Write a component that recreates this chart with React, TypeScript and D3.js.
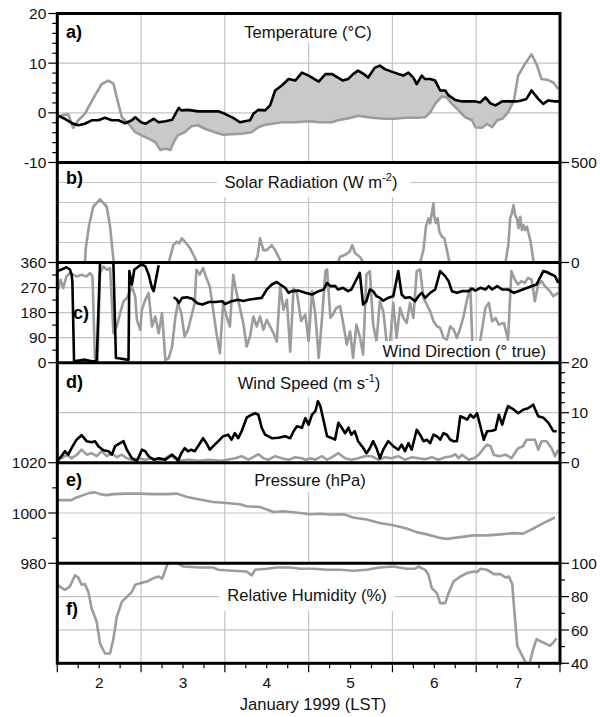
import React from "react";
import * as d3 from "d3";

type Pt = [number, number | null];

// ---------- data (day of January 1999, value) ----------
const DAY_LABELS = [2, 3, 4, 5, 6, 7];
const DAY_BOUNDS = [2.5, 3.5, 4.5, 5.5, 6.5];

const TEMP_AIR: Pt[] = [[1.50,-0.5],[1.59,-1.2],[1.69,-2.2],[1.75,-2.5],[1.83,-2.2],[1.91,-1.5],[1.99,-1.5],[2.07,-1.0],[2.15,-1.5],[2.23,-1.5],[2.31,-2.1],[2.39,-1.5],[2.43,-0.9],[2.50,-1.9],[2.55,-2.2],[2.65,-1.2],[2.71,-1.9],[2.79,-1.7],[2.87,-1.4],[2.90,-0.5],[2.95,1.0],[2.98,0.5],[3.06,0.6],[3.18,0.3],[3.30,0.3],[3.42,0.3],[3.50,-0.2],[3.60,-1.0],[3.68,-1.9],[3.80,-1.5],[3.84,-0.2],[3.90,0.6],[3.98,0.5],[4.04,1.5],[4.10,4.5],[4.18,5.5],[4.26,6.8],[4.34,6.5],[4.42,8.1],[4.50,7.5],[4.54,7.1],[4.62,6.3],[4.70,7.8],[4.78,7.8],[4.85,7.1],[4.91,6.5],[4.97,6.8],[5.03,7.8],[5.09,8.5],[5.15,7.9],[5.21,7.1],[5.29,9.1],[5.35,9.5],[5.41,8.8],[5.49,8.3],[5.57,7.8],[5.63,7.5],[5.69,8.1],[5.75,7.1],[5.79,5.8],[5.85,7.5],[5.89,6.8],[5.95,6.8],[6.01,6.5],[6.07,4.5],[6.13,4.5],[6.17,3.5],[6.25,2.6],[6.33,2.3],[6.41,2.3],[6.49,2.3],[6.55,2.1],[6.61,3.1],[6.67,1.9],[6.73,1.5],[6.81,2.3],[6.88,2.3],[6.98,2.3],[7.04,2.5],[7.10,2.8],[7.16,4.5],[7.24,2.8],[7.30,1.8],[7.36,2.5],[7.44,2.3],[7.50,2.3]];

const TEMP_SFC: Pt[] = [[1.50,-0.9],[1.55,-0.5],[1.63,-0.3],[1.69,-3.0],[1.75,-1.5],[1.83,-0.2],[1.87,1.1],[1.95,3.5],[2.03,5.8],[2.11,6.5],[2.17,5.9],[2.21,3.1],[2.27,-0.9],[2.35,-2.2],[2.43,-3.9],[2.50,-4.5],[2.59,-5.2],[2.67,-5.9],[2.73,-7.5],[2.79,-7.2],[2.85,-7.5],[2.89,-5.9],[2.94,-4.5],[3.02,-3.9],[3.10,-2.7],[3.18,-2.5],[3.26,-3.2],[3.38,-3.9],[3.48,-4.4],[3.58,-4.3],[3.70,-4.2],[3.82,-3.9],[3.90,-2.9],[3.96,-2.5],[4.06,-2.2],[4.18,-1.9],[4.34,-1.9],[4.50,-1.7],[4.62,-1.9],[4.78,-1.9],[4.85,-1.5],[5.01,-1.0],[5.09,-0.6],[5.25,-1.0],[5.41,-1.2],[5.53,-1.2],[5.65,-1.0],[5.81,-1.0],[5.89,-0.9],[5.95,0.1],[6.01,1.8],[6.09,3.3],[6.15,3.1],[6.21,1.8],[6.29,0.5],[6.37,-0.9],[6.45,-1.5],[6.49,-2.9],[6.57,-3.0],[6.63,-2.2],[6.69,-2.9],[6.75,-1.5],[6.81,-1.2],[6.88,0.1],[6.95,2.5],[7.00,7.5],[7.08,9.8],[7.16,11.8],[7.22,9.8],[7.28,6.8],[7.36,6.6],[7.42,6.1],[7.48,4.8]];

const SOLAR: Pt[] = [[1.50,0],[1.83,0],[1.84,72],[1.88,187],[1.93,280],[2.01,316],[2.09,280],[2.13,180],[2.17,12],[2.18,0],[2.83,0],[2.885,87],[2.925,104],[2.955,96],[2.985,121],[3.025,104],[3.085,71],[3.145,22],[3.165,0],[3.86,0],[3.89,30],[3.92,121],[3.96,62],[4.00,62],[4.06,87],[4.10,62],[4.15,20],[4.17,0],[4.85,0],[4.875,29],[4.93,37],[4.99,54],[5.02,87],[5.055,46],[5.11,29],[5.155,0],[5.83,0],[5.87,62],[5.90,179],[5.93,221],[5.95,196],[5.97,246],[5.99,296],[6.00,229],[6.02,196],[6.04,221],[6.06,154],[6.09,129],[6.12,121],[6.15,62],[6.18,0],[6.85,0],[6.885,96],[6.905,221],[6.925,246],[6.945,287],[6.965,237],[6.985,221],[7.005,171],[7.025,229],[7.045,162],[7.065,187],[7.085,162],[7.105,179],[7.125,146],[7.145,112],[7.165,62],[7.185,0],[7.50,0]];

const WDIR_A: Pt[] = [[1.50,329],[1.55,335],[1.61,343],[1.65,335],[1.67,317],[1.68,290],[1.70,5],[1.83,11],[1.91,5],[1.97,5],[2.01,355],[2.03,362],[2.10,362],[2.15,362],[2.17,353],[2.20,17],[2.25,15],[2.33,11],[2.35,11],[2.36,329],[2.39,281],[2.42,335],[2.45,341],[2.50,353],[2.55,347],[2.59,317],[2.63,269],[2.65,257],[2.71,350],[2.72,null],[2.88,null],[2.89,235],[2.93,226],[2.95,214],[2.99,233],[3.05,235],[3.11,230],[3.17,214],[3.23,209],[3.31,218],[3.39,218],[3.47,221],[3.50,211],[3.58,221],[3.66,226],[3.72,222],[3.78,226],[3.86,230],[3.94,233],[4.00,263],[4.06,281],[4.12,290],[4.16,281],[4.22,269],[4.26,251],[4.30,257],[4.38,259],[4.46,251],[4.54,245],[4.62,257],[4.68,263],[4.72,287],[4.76,275],[4.82,275],[4.85,263],[4.91,269],[4.97,257],[5.01,263],[5.07,299],[5.11,323],[5.15,209],[5.19,221],[5.23,263],[5.27,257],[5.31,239],[5.35,233],[5.39,223],[5.45,233],[5.51,239],[5.57,329],[5.61,245],[5.65,233],[5.71,235],[5.77,221],[5.81,239],[5.85,251],[5.89,233],[5.95,251],[6.01,263],[6.07,329],[6.13,311],[6.17,293],[6.21,257],[6.27,251],[6.33,257],[6.41,257],[6.45,266],[6.49,259],[6.55,269],[6.61,263],[6.65,275],[6.69,263],[6.75,275],[6.81,263],[6.88,263],[6.95,251],[7.00,257],[7.08,266],[7.16,275],[7.22,281],[7.26,305],[7.30,329],[7.34,326],[7.40,317],[7.44,311],[7.48,287]];

const WDIR_B: Pt[] = [[1.51,262],[1.54,298],[1.57,268],[1.61,310],[1.65,322],[1.69,316],[1.73,310],[1.79,316],[1.85,310],[1.89,322],[1.92,310],[1.95,4],[1.98,4],[2.01,322],[2.05,346],[2.09,334],[2.13,340],[2.17,106],[2.21,130],[2.25,178],[2.29,220],[2.33,232],[2.39,274],[2.43,238],[2.45,154],[2.49,118],[2.51,190],[2.55,226],[2.59,250],[2.63,130],[2.67,166],[2.71,106],[2.75,178],[2.79,10],[2.83,16],[2.87,58],[2.91,166],[2.94,214],[2.98,178],[3.02,94],[3.06,118],[3.10,166],[3.14,214],[3.16,334],[3.20,316],[3.24,340],[3.28,304],[3.32,274],[3.36,190],[3.40,106],[3.44,34],[3.48,214],[3.52,166],[3.56,130],[3.60,316],[3.64,250],[3.68,196],[3.72,142],[3.76,58],[3.80,94],[3.84,166],[3.88,130],[3.92,166],[3.96,118],[4.00,154],[4.04,130],[4.08,106],[4.12,76],[4.16,274],[4.20,190],[4.24,226],[4.28,40],[4.32,268],[4.36,250],[4.41,150],[4.46,173],[4.50,77],[4.54,257],[4.58,173],[4.62,17],[4.66,161],[4.70,329],[4.72,335],[4.76,161],[4.79,173],[4.83,197],[4.875,203],[4.915,137],[4.955,65],[4.995,113],[5.03,17],[5.07,137],[5.11,95],[5.15,29],[5.19,317],[5.23,329],[5.27,137],[5.31,77],[5.35,221],[5.39,185],[5.43,77],[5.47,65],[5.51,215],[5.55,89],[5.59,197],[5.63,161],[5.67,143],[5.71,215],[5.75,161],[5.79,329],[5.83,335],[5.87,233],[5.91,209],[5.95,185],[5.99,149],[6.03,131],[6.07,125],[6.11,89],[6.15,83],[6.19,131],[6.23,119],[6.27,89],[6.31,125],[6.35,167],[6.39,227],[6.43,269],[6.46,20],[6.53,20],[6.55,83],[6.61,197],[6.65,215],[6.69,149],[6.73,161],[6.77,137],[6.83,143],[6.88,83],[6.92,329],[6.96,299],[7.00,281],[7.04,293],[7.08,287],[7.12,305],[7.16,299],[7.20,221],[7.24,281],[7.28,293],[7.32,275],[7.38,257],[7.42,239],[7.48,251]];

const WSPD_A: Pt[] = [[1.50,0.3],[1.55,1.3],[1.59,2.3],[1.63,1.6],[1.67,2.9],[1.73,4.6],[1.79,5.5],[1.85,4.3],[1.91,4.1],[1.95,4.3],[1.99,3.3],[2.05,2.5],[2.11,2.3],[2.15,1.6],[2.19,3.3],[2.25,3.9],[2.29,4.3],[2.33,2.6],[2.39,0.9],[2.45,0.3],[2.51,2.6],[2.55,2.3],[2.59,1.3],[2.65,0.6],[2.71,0.9],[2.79,0.6],[2.87,1.6],[2.92,0.9],[2.94,0.3],[2.98,1.9],[3.02,2.9],[3.06,2.3],[3.10,2.6],[3.14,2.3],[3.18,3.3],[3.24,4.9],[3.28,3.9],[3.32,2.6],[3.38,3.6],[3.44,4.6],[3.48,5.3],[3.54,5.6],[3.58,4.6],[3.62,5.9],[3.66,4.9],[3.70,6.3],[3.76,9.0],[3.82,9.6],[3.86,9.9],[3.90,9.6],[3.94,7.0],[3.98,5.6],[4.06,4.9],[4.14,5.0],[4.22,5.3],[4.28,4.9],[4.32,6.3],[4.36,7.3],[4.42,7.0],[4.46,8.9],[4.50,7.6],[4.54,9.6],[4.58,10.3],[4.61,12.3],[4.64,11.3],[4.68,8.3],[4.72,5.3],[4.78,4.9],[4.815,4.6],[4.855,8.0],[4.895,7.0],[4.935,5.9],[4.975,7.0],[5.01,5.6],[5.05,6.3],[5.09,4.3],[5.15,3.0],[5.19,1.9],[5.23,2.9],[5.27,4.3],[5.31,2.9],[5.35,0.9],[5.39,2.6],[5.45,4.3],[5.51,3.3],[5.57,2.6],[5.61,3.6],[5.65,2.3],[5.69,3.9],[5.73,2.6],[5.79,6.6],[5.83,5.6],[5.87,4.3],[5.91,4.6],[5.95,3.9],[5.99,5.6],[6.03,5.3],[6.07,4.6],[6.11,5.9],[6.15,5.6],[6.19,4.6],[6.23,4.3],[6.27,4.3],[6.31,9.3],[6.35,9.0],[6.39,8.6],[6.43,9.6],[6.47,9.0],[6.51,9.9],[6.55,7.3],[6.59,4.6],[6.63,6.3],[6.69,6.4],[6.73,6.6],[6.77,9.6],[6.81,7.6],[6.85,9.9],[6.88,11.3],[6.95,10.6],[7.00,9.9],[7.06,10.6],[7.12,10.9],[7.18,11.6],[7.24,9.3],[7.30,9.0],[7.36,8.0],[7.42,6.3],[7.46,6.3]];

const WSPD_B: Pt[] = [[1.50,0.9],[1.55,0.9],[1.61,1.5],[1.67,0.9],[1.73,1.5],[1.79,2.6],[1.85,1.6],[1.91,1.9],[1.97,1.3],[2.03,2.3],[2.09,1.3],[2.15,1.9],[2.21,1.1],[2.27,1.6],[2.33,0.9],[2.39,0.6],[2.47,0.9],[2.55,0.6],[2.63,0.9],[2.71,0.4],[2.79,0.9],[2.85,1.6],[2.89,0.9],[2.95,0.4],[3.07,0.6],[3.19,0.4],[3.30,0.6],[3.46,0.4],[3.62,0.9],[3.70,1.3],[3.78,0.6],[3.86,1.3],[3.90,1.7],[3.96,0.9],[4.02,0.6],[4.10,1.3],[4.18,0.9],[4.26,0.6],[4.34,1.1],[4.42,0.9],[4.46,0.6],[4.52,0.9],[4.58,0.6],[4.66,1.3],[4.72,0.6],[4.78,1.1],[4.855,1.9],[4.935,0.9],[5.01,0.6],[5.09,0.9],[5.17,1.3],[5.25,1.3],[5.33,0.6],[5.41,1.1],[5.49,0.9],[5.57,1.3],[5.65,0.6],[5.73,1.1],[5.81,0.9],[5.89,0.7],[5.97,1.1],[6.05,0.6],[6.13,1.1],[6.21,1.3],[6.25,1.7],[6.29,0.9],[6.33,1.6],[6.41,0.6],[6.47,0.9],[6.53,1.6],[6.59,2.9],[6.63,3.6],[6.67,3.3],[6.71,1.6],[6.77,1.3],[6.85,1.6],[6.92,0.9],[7.00,2.9],[7.06,3.3],[7.10,4.6],[7.16,4.6],[7.20,4.6],[7.24,2.6],[7.28,4.3],[7.34,4.3],[7.40,2.9],[7.44,1.3],[7.48,2.6]];

const PRESSURE: Pt[] = [[1.50,1005.1],[1.61,1005.1],[1.67,1005.1],[1.73,1006.2],[1.81,1007.1],[1.89,1008.0],[1.95,1008.2],[2.01,1007.5],[2.09,1007.1],[2.17,1007.5],[2.33,1007.7],[2.49,1007.7],[2.65,1007.5],[2.81,1007.5],[2.93,1007.7],[3.05,1006.4],[3.20,1005.4],[3.36,1004.4],[3.52,1004.0],[3.68,1003.5],[3.76,1002.7],[3.92,1002.4],[4.00,1001.4],[4.08,1000.4],[4.20,1000.7],[4.40,1000.0],[4.52,999.5],[4.64,999.7],[4.76,999.4],[4.92,999.5],[5.03,998.2],[5.19,997.4],[5.35,996.0],[5.51,995.1],[5.67,993.8],[5.79,992.4],[5.91,991.5],[6.07,990.1],[6.15,989.7],[6.31,990.4],[6.47,991.1],[6.63,991.1],[6.79,991.5],[6.95,992.0],[7.06,991.8],[7.18,993.8],[7.30,996.0],[7.44,998.2]];

const RH: Pt[] = [[1.50,87.1],[1.59,84.1],[1.65,86.1],[1.71,92.7],[1.75,91.5],[1.79,87.1],[1.83,87.5],[1.87,82.9],[1.91,72.9],[1.97,64.9],[2.01,51.9],[2.07,45.9],[2.13,45.9],[2.17,54.9],[2.21,67.9],[2.27,76.9],[2.33,79.9],[2.39,82.9],[2.43,87.1],[2.49,88.1],[2.57,89.1],[2.65,91.1],[2.71,92.1],[2.75,90.7],[2.77,93.1],[2.81,99.1],[2.85,100.5],[2.92,100.5],[3.00,98.1],[3.20,97.5],[3.36,97.5],[3.42,96.1],[3.60,95.5],[3.76,95.1],[3.82,92.7],[3.86,96.1],[4.00,96.7],[4.12,97.5],[4.28,97.5],[4.40,96.7],[4.56,96.7],[4.72,96.1],[4.88,96.1],[5.03,95.5],[5.19,96.1],[5.35,97.5],[5.51,98.1],[5.67,96.7],[5.77,96.7],[5.81,98.1],[5.89,96.1],[5.93,93.1],[5.97,85.1],[6.03,82.1],[6.07,76.1],[6.13,76.1],[6.17,82.1],[6.23,89.1],[6.31,92.1],[6.39,94.1],[6.47,95.1],[6.51,94.7],[6.55,96.7],[6.63,96.1],[6.71,93.5],[6.79,93.5],[6.85,91.5],[6.89,92.1],[6.93,87.5],[6.95,74.5],[6.99,50.5],[7.05,44.5],[7.10,39.5],[7.14,40.5],[7.18,48.5],[7.22,54.5],[7.26,53.5],[7.30,52.5],[7.34,51.5],[7.38,50.5],[7.42,52.5],[7.46,55.0]];

// tick values
const TEMP_TICKS = [-10, 0, 10, 20];
const SOLAR_TICKS = [0, 500];
const WDIR_TICKS = [0, 90, 180, 270, 360];
const WSPD_TICKS = [0, 10, 20];
const PRES_TICKS = [980, 1000, 1020];
const RH_TICKS = [40, 60, 80, 100];

// ---------- layout ----------
const W = 600, H = 717;
const XL = 57.3, XR = 560;
const FONT = "'Liberation Sans', Arial, Helvetica, sans-serif";
const GRAY = "#9c9c9c";
const FILL = "#c9c9c9";
const GRID = "#c4c4c4";
const TITLE_SIZE = 16.6;
const TICK_SIZE = 15.5;

const x = d3.scaleLinear().domain([1.5, 7.5]).range([XL, XR]);

interface Panel {
  id: string;
  top: number;
  bottom: number;
  domain: [number, number];
  side: "left" | "right";
  ticks: number[];
  minor: number[];
  grid: number[];
  label: string;
  labelPos: [number, number];
  title: React.ReactNode;
  titleX: number;
  titleY: number;
  anchor: "middle" | "end";
  box: [number, number, number, number];
  boxOverData: boolean;
  gray?: Pt[];
  black?: Pt[];
}

const panels: Panel[] = [
  { id: "a", top: 13.5, bottom: 162.5, domain: [-10, 20], side: "left", ticks: TEMP_TICKS, minor: d3.range(-10, 20.1, 2), grid: [0, 10], label: "a)", labelPos: [66, 38], title: <>Temperature (°C)</>, titleX: 308, titleY: 38, anchor: "middle", box: [238, 14, 381, 43], boxOverData: true, gray: TEMP_SFC, black: TEMP_AIR },
  { id: "b", top: 162.5, bottom: 262.5, domain: [0, 500], side: "right", ticks: SOLAR_TICKS, minor: [], grid: [100, 200, 300, 400], label: "b)", labelPos: [66, 184], title: <>Solar Radiation (W m<tspan dy={-7} fontSize={11}>-2</tspan><tspan dy={7}>)</tspan></>, titleX: 311, titleY: 187.5, anchor: "middle", box: [217, 163, 410, 197], boxOverData: true, gray: SOLAR },
  { id: "c", top: 262.5, bottom: 362.7, domain: [0, 360], side: "left", ticks: WDIR_TICKS, minor: [45, 135, 225, 315], grid: [90, 180, 270], label: "c)", labelPos: [73, 318.5], title: <>Wind Direction (° true)</>, titleX: 546, titleY: 356.5, anchor: "end", box: [376, 341, 552, 361], boxOverData: true, gray: WDIR_B, black: WDIR_A },
  { id: "d", top: 362.7, bottom: 462.7, domain: [0, 20], side: "right", ticks: WSPD_TICKS, minor: d3.range(0, 20.1, 2), grid: [10], label: "d)", labelPos: [66, 387.5], title: <>Wind Speed (m s<tspan dy={-7} fontSize={11}>-1</tspan><tspan dy={7}>)</tspan></>, titleX: 309, titleY: 389, anchor: "middle", box: [230, 364, 388, 397], boxOverData: true, gray: WSPD_B, black: WSPD_A },
  { id: "e", top: 462.7, bottom: 563.3, domain: [980, 1020], side: "left", ticks: PRES_TICKS, minor: [990, 1010], grid: [1000], label: "e)", labelPos: [66, 485.5], title: <>Pressure (hPa)</>, titleX: 310, titleY: 485.5, anchor: "middle", box: [248, 464, 373, 492], boxOverData: true, gray: PRESSURE },
  { id: "f", top: 563.3, bottom: 663.3, domain: [40, 100], side: "right", ticks: RH_TICKS, minor: [50, 70, 90], grid: [60, 80], label: "f)", labelPos: [66, 614.5], title: <>Relative Humidity (%)</>, titleX: 307, titleY: 601, anchor: "middle", box: [219, 563, 395, 611], boxOverData: false, gray: RH },
];

function linePath(data: Pt[], y: d3.ScaleLinear<number, number>) {
  return d3.line<Pt>().defined(d => d[1] != null).x(d => x(d[0])).y(d => y(d[1] as number))(data) || "";
}

function interp(data: Pt[]) {
  return d3.scaleLinear().domain(data.map(d => d[0])).range(data.map(d => d[1] as number)).clamp(true);
}

function PanelView({ p }: { p: Panel }) {
  const y = d3.scaleLinear().domain(p.domain).range([p.bottom, p.top]);
  const clipId = "clip-" + p.id;
  let fillPath = "";
  if (p.id === "a" && p.gray && p.black) {
    const fa = interp(p.black);
    const fs = interp(p.gray);
    const grid = d3.range(1.5, 7.5001, 0.003);
    fillPath = d3.area<number>().x(t => x(t)).y0(t => y(fs(t))).y1(t => y(Math.max(fa(t), fs(t))))(grid) || "";
  }
  const isLeft = p.side === "left";
  const ax = isLeft ? XL : XR;
  const dir = isLeft ? -1 : 1;
  const box = <rect x={p.box[0]} y={p.box[1]} width={p.box[2] - p.box[0]} height={p.box[3] - p.box[1]} fill="#fff" />;
  return (
    <g>
      <clipPath id={clipId}>
        <rect x={XL} y={p.top} width={XR - XL} height={p.bottom - p.top} />
      </clipPath>
      {/* grid */}
      <g stroke={GRID} strokeWidth={1.2}>
        {p.grid.map(v => <line key={"h" + v} x1={XL} x2={XR} y1={y(v)} y2={y(v)} />)}
        {DAY_BOUNDS.map(d => <line key={"v" + d} x1={x(d)} x2={x(d)} y1={p.top} y2={p.bottom} />)}
      </g>
      <g clipPath={`url(#${clipId})`}>
        {!p.boxOverData && box}
        {fillPath && <path d={fillPath} fill={FILL} stroke="none" />}
        {p.gray && <path d={linePath(p.gray, y)} fill="none" stroke={GRAY} strokeWidth={2.6} strokeLinejoin="round" />}
        {p.black && <path d={linePath(p.black, y)} fill="none" stroke="#000" strokeWidth={2.6} strokeLinejoin="round" />}
        {p.boxOverData && box}
      </g>
      <text x={p.titleX} y={p.titleY} textAnchor={p.anchor} fontSize={TITLE_SIZE} fill="#111">{p.title}</text>
      <text x={p.labelPos[0]} y={p.labelPos[1]} fontSize={18} fontWeight="bold" fill="#000">{p.label}</text>
      {/* axis */}
      <g stroke="#000" strokeWidth={1.2}>
        {p.ticks.map(v => <line key={"t" + v} x1={ax} x2={ax + dir * 9} y1={y(v)} y2={y(v)} />)}
        {p.minor.filter(v => !p.ticks.includes(v)).map(v => <line key={"m" + v} x1={ax} x2={ax + dir * 5} y1={y(v)} y2={y(v)} />)}
      </g>
      {p.ticks.map(v => (
        <text key={"l" + v} x={ax + dir * 11} y={y(v)} dy="0.36em" textAnchor={isLeft ? "end" : "start"} fontSize={TICK_SIZE} fill="#111">{v}</text>
      ))}
    </g>
  );
}

export default function App() {
  const bottom = panels[panels.length - 1].bottom;
  const quarter = d3.range(1.5, 7.5001, 0.25);
  return (
    <svg width={W} height={H} viewBox={`0 0 ${W} ${H}`} style={{ position: "absolute", left: 0, top: 0, background: "#fff", fontFamily: FONT }}>
      <rect x={0} y={0} width={W} height={H} fill="#fff" />
      {panels.map(p => <PanelView key={p.id} p={p} />)}
      {/* frames */}
      <g stroke="#000" strokeWidth={3} fill="none">
        <rect x={XL} y={panels[0].top} width={XR - XL} height={bottom - panels[0].top} />
        {panels.slice(1).map(p => <line key={"sep" + p.id} x1={XL} x2={XR} y1={p.top} y2={p.top} />)}
      </g>
      {/* x axis */}
      <g stroke="#000" strokeWidth={1.2}>
        {quarter.map(d => {
          const major = Math.abs(d - Math.round(d - 0.5) - 0.5) < 1e-6;
          return <line key={"xt" + d} x1={x(d)} x2={x(d)} y1={bottom + 1} y2={bottom + (major ? 9 : 5)} />;
        })}
      </g>
      {DAY_LABELS.map(d => (
        <text key={"xl" + d} x={x(d)} y={687.5} textAnchor="middle" fontSize={TICK_SIZE} fill="#111">{d}</text>
      ))}
      <text x={313} y={709.5} textAnchor="middle" fontSize={TITLE_SIZE} fill="#111">January 1999 (LST)</text>
    </svg>
  );
}
